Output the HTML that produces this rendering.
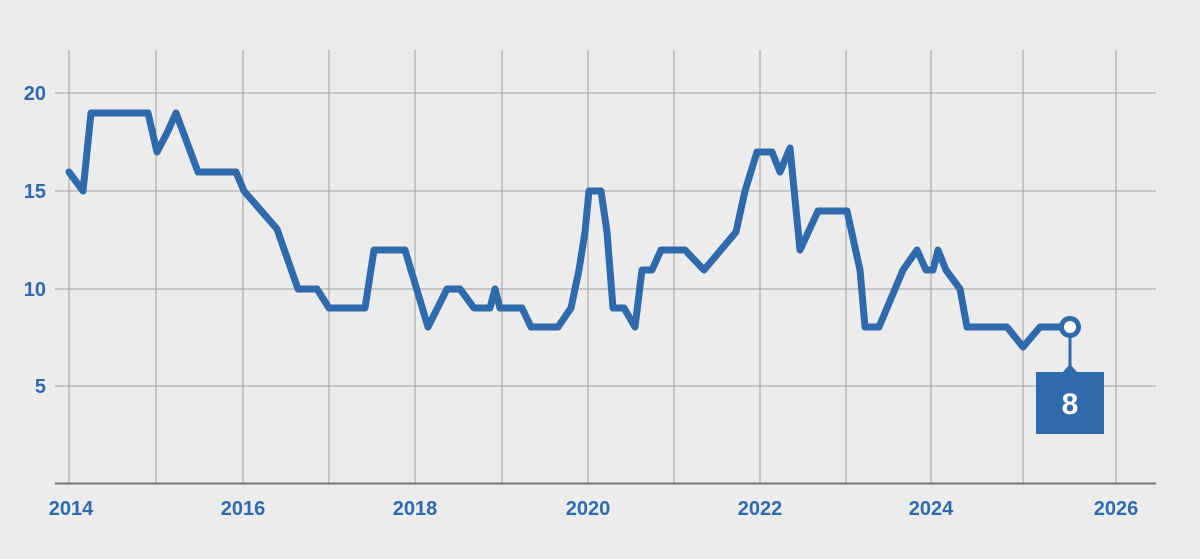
<!DOCTYPE html>
<html><head><style>
body{margin:0;background:#ececec;}
svg{display:block;font-family:"Liberation Sans",sans-serif;}
</style></head><body>
<svg width="1200" height="559" viewBox="0 0 1200 559">
<rect width="1200" height="559" fill="#ececec"/>
<g stroke="#a0a0a0" stroke-width="1">
<line x1="55" y1="93" x2="1156" y2="93"/>
<line x1="55" y1="191" x2="1156" y2="191"/>
<line x1="55" y1="289" x2="1156" y2="289"/>
<line x1="55" y1="386" x2="1156" y2="386"/>
<line x1="69" y1="50" x2="69" y2="483"/>
<line x1="156" y1="50" x2="156" y2="483"/>
<line x1="243" y1="50" x2="243" y2="483"/>
<line x1="329" y1="50" x2="329" y2="483"/>
<line x1="415" y1="50" x2="415" y2="483"/>
<line x1="502" y1="50" x2="502" y2="483"/>
<line x1="588" y1="50" x2="588" y2="483"/>
<line x1="674" y1="50" x2="674" y2="483"/>
<line x1="760" y1="50" x2="760" y2="483"/>
<line x1="846" y1="50" x2="846" y2="483"/>
<line x1="931" y1="50" x2="931" y2="483"/>
<line x1="1023" y1="50" x2="1023" y2="483"/>
<line x1="1116" y1="50" x2="1116" y2="483"/>
</g>
<line x1="55" y1="483.5" x2="1156" y2="483.5" stroke="#777" stroke-width="2"/>
<g fill="#2f6aad" font-size="20" font-weight="bold" text-anchor="end">
<text x="46" y="100">20</text><text x="46" y="198">15</text><text x="46" y="296">10</text><text x="46" y="393">5</text>
</g>
<g fill="#2f6aad" font-size="20" font-weight="bold" text-anchor="middle">
<text x="71" y="515">2014</text><text x="243" y="515">2016</text><text x="415" y="515">2018</text><text x="588" y="515">2020</text><text x="760" y="515">2022</text><text x="931" y="515">2024</text><text x="1116" y="515">2026</text>
</g>
<polyline fill="none" stroke="#2f6aad" stroke-width="7" stroke-linejoin="round" stroke-linecap="round" points="69,172 83,191 91,113 148,113 157,152 167,133 176,113 198,172 236,172 244,191 277,229 298,289 317,289 329,308 365,308 374,250 405,250 428,327 447,289 460,289 474,308 490,308 495,289 500,308 522,308 531,327 558,327 571,308 579,270 585,232 589,191 601,191 607,232 613,308 624,308 635,327 642,270 652,270 661,250 685,250 704,270 736,232 745,191 757,152 772,152 780,172 790,148 800,250 818,211 847,211 860,270 865,327 879,327 903,270 917,250 926,270 933,270 938,250 946,270 960,289 967,327 1007,327 1023,347 1040,327 1070,327"/>
<line x1="1070" y1="327" x2="1070" y2="373" stroke="#2f6aad" stroke-width="3"/>
<polygon points="1062,373 1078,373 1070,364" fill="#2f6aad"/>
<rect x="1036" y="372" width="68" height="62" fill="#2f6aad"/>
<text x="1070" y="414" fill="#fff" font-size="30" font-weight="bold" text-anchor="middle">8</text>
<circle cx="1070" cy="327" r="8.5" fill="#fff" stroke="#2f6aad" stroke-width="5"/>
</svg>
</body></html>
